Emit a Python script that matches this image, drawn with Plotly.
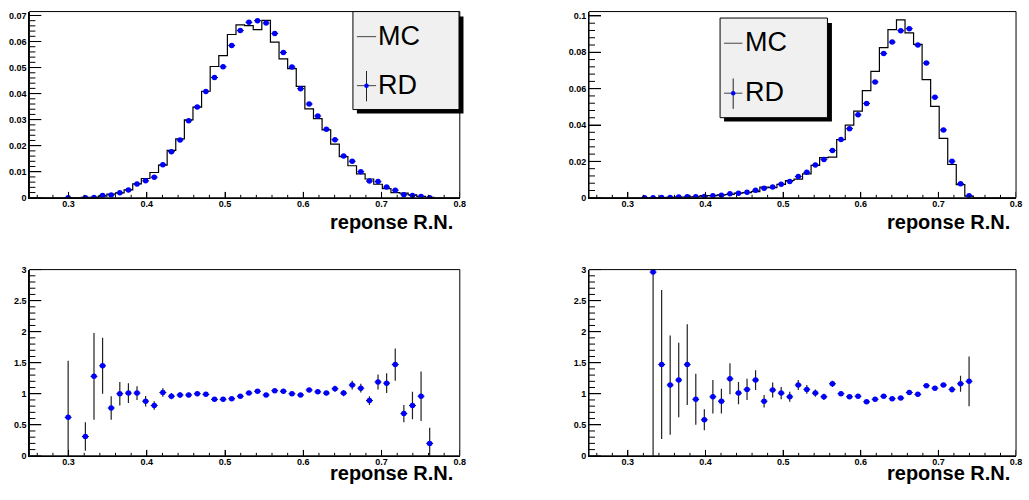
import plotly.graph_objects as go

# ---------------- data ----------------
X_MIN, X_MAX, N_BINS = 0.25, 0.8, 50
X_TITLE = "reponse R.N."
LEGEND_LABELS = ["MC", "RD"]

# left column (50 bins from 0.25 to 0.8)
mc_left = [0, 0, 0, 0, 0.00008, 0.00005, 0.00016, 0.00012, 0.00062, 0.00143,
           0.0019, 0.0030, 0.0053, 0.0074, 0.0097, 0.0125, 0.0182, 0.0226, 0.0299, 0.0348,
           0.0409, 0.0504, 0.0546, 0.0627, 0.0664, 0.0661, 0.0646, 0.0681, 0.0598, 0.0533,
           0.0496, 0.0428, 0.0341, 0.0304, 0.0261, 0.0206, 0.0158, 0.0123, 0.0092, 0.0072,
           0.0052, 0.0035, 0.0020, 0.0018, 0.0011, 0.00052, 0.0002, 0, 0, 0]
rd_left = [0, 0, 0, 0, 0.00005, 0, 0.00005, 0.00015, 0.0009, 0.0011,
           0.0019, 0.0030, 0.0053, 0.0065, 0.0079, 0.0127, 0.0177, 0.0222, 0.0296, 0.0349,
           0.0408, 0.0462, 0.0503, 0.0585, 0.0642, 0.0674, 0.0680, 0.0671, 0.0631, 0.0558,
           0.0502, 0.0419, 0.0360, 0.0314, 0.0263, 0.0223, 0.0160, 0.0140, 0.0100, 0.0064,
           0.0062, 0.0041, 0.0029, 0.0012, 0.0009, 0.0005, 0.00004, 0, 0, 0]
ratio_left = [None, None, None, None, 0.62, None, 0.31, 1.28, 1.45, 0.77,
              1.00, 1.01, 1.01, 0.88, 0.81, 1.02, 0.96, 0.98, 0.98, 1.00,
              0.99, 0.91, 0.91, 0.92, 0.96, 1.01, 1.04, 0.98, 1.05, 1.04,
              1.00, 0.98, 1.06, 1.03, 1.01, 1.08, 1.01, 1.14, 1.09, 0.89,
              1.19, 1.17, 1.47, 0.68, 0.81, 0.96, 0.20, None, None, None]
ratio_left_err = [0, 0, 0, 0, 0.91, 0, 0.23, 0.70, 0.45, 0.19,
                  0.19, 0.16, 0.11, 0.085, 0.07, 0.07, 0.05, 0.045, 0.035, 0.03,
                  0.03, 0.025, 0.025, 0.02, 0.02, 0.02, 0.02, 0.02, 0.02, 0.02,
                  0.025, 0.025, 0.03, 0.03, 0.035, 0.05, 0.05, 0.07, 0.07, 0.07,
                  0.12, 0.16, 0.26, 0.14, 0.22, 0.40, 0.25, 0, 0, 0]

# right column
mc_right = [0, 0, 0, 0, 0, 0, 0, 0.00002, 0.00007, 0.00018,
            0.00033, 0.00034, 0.00055, 0.0012, 0.00116, 0.0016, 0.0018, 0.0025, 0.0028, 0.0034,
            0.0059, 0.0056, 0.0074, 0.0095, 0.0103, 0.0131, 0.0178, 0.0221, 0.0224, 0.0320,
            0.0400, 0.0476, 0.0589, 0.0695, 0.0826, 0.0925, 0.0978, 0.0907, 0.0844, 0.0650,
            0.0503, 0.0327, 0.0183, 0.0072, 0.0009, 0, 0, 0, 0, 0]
rd_right = [0, 0, 0, 0, 0, 0, 0.00002, 0.00005, 0.0001, 0.0002,
            0.0004, 0.0005, 0.0005, 0.0007, 0.0011, 0.0014, 0.0022, 0.0025, 0.0030, 0.0041,
            0.0052, 0.0059, 0.0075, 0.0090, 0.0117, 0.0140, 0.0180, 0.0210, 0.0260, 0.0320,
            0.0380, 0.0456, 0.0519, 0.0637, 0.0794, 0.0856, 0.0919, 0.0930, 0.0840, 0.0741,
            0.0553, 0.0373, 0.0201, 0.0077, 0.0011, 0, 0, 0, 0, 0]
ratio_right = [None, None, None, None, None, None, None, 2.96, 1.47, 1.14,
               1.22, 1.47, 0.91, 0.58, 0.95, 0.88, 1.24, 1.01, 1.07, 1.22,
               0.88, 1.06, 1.01, 0.95, 1.14, 1.07, 1.01, 0.95, 1.16, 1.00,
               0.95, 0.96, 0.87, 0.91, 0.96, 0.92, 0.93, 1.02, 0.99, 1.13,
               1.09, 1.14, 1.07, 1.16, 1.20, None, None, None, None, None]
ratio_right_err = [0, 0, 0, 0, 0, 0, 0, 3.0, 1.2, 0.8,
                   0.6, 0.65, 0.41, 0.17, 0.27, 0.2, 0.25, 0.18, 0.17, 0.16,
                   0.10, 0.12, 0.10, 0.08, 0.08, 0.07, 0.06, 0.05, 0.05, 0.03,
                   0.02, 0.02, 0.02, 0.02, 0.02, 0.02, 0.02, 0.02, 0.02, 0.02,
                   0.02, 0.03, 0.05, 0.13, 0.40, 0, 0, 0, 0, 0]

# ---------------- figure ----------------
W, H = 1029, 500
BIN_W = (X_MAX - X_MIN) / N_BINS
edges = [X_MIN + i * BIN_W for i in range(N_BINS + 1)]
centers = [X_MIN + (i + 0.5) * BIN_W for i in range(N_BINS)]
XERR = 0.4 * BIN_W

FONT = "Liberation Sans, Arial, Helvetica, sans-serif"
BLUE = "#0000ff"


def px(x):
    return x / W


def py(y):
    return 1 - y / H


fig = go.Figure()


def add_hist(mc, rd, xa, ya):
    fig.add_trace(go.Scatter(
        x=edges, y=list(mc) + [mc[-1]], mode="lines",
        line=dict(shape="hv", color="black", width=1.2),
        xaxis=xa, yaxis=ya, showlegend=False, hoverinfo="skip"))
    idx = [i for i, v in enumerate(rd) if v > 0]
    fig.add_trace(go.Scatter(
        x=[centers[i] for i in idx], y=[rd[i] for i in idx], mode="markers",
        marker=dict(color=BLUE, size=5.5, symbol="circle"),
        error_x=dict(type="constant", value=XERR, width=0, thickness=1, color="black"),
        xaxis=xa, yaxis=ya, showlegend=False))


def add_ratio(r, e, xa, ya):
    idx = [i for i, v in enumerate(r) if v is not None]
    fig.add_trace(go.Scatter(
        x=[centers[i] for i in idx], y=[r[i] for i in idx], mode="markers",
        marker=dict(color=BLUE, size=5.5, symbol="circle"),
        error_x=dict(type="constant", value=XERR, width=0, thickness=1, color="black"),
        error_y=dict(type="data", array=[e[i] for i in idx], width=0, thickness=1.2, color="#222222"),
        xaxis=xa, yaxis=ya, showlegend=False))


add_hist(mc_left, rd_left, "x", "y")
add_hist(mc_right, rd_right, "x2", "y2")
add_ratio(ratio_left, ratio_left_err, "x3", "y3")
add_ratio(ratio_right, ratio_right_err, "x4", "y4")

tickfont = dict(family=FONT, size=9, color="black", weight="bold")

LEFT_PX = (29.6, 462.5)
RIGHT_PX = (592.5, 1022)
TOP_PX = (6.7, 196.7)
BOT_PX = (270, 460)
LEFT_DOM = [px(LEFT_PX[0]), px(LEFT_PX[1])]
RIGHT_DOM = [px(RIGHT_PX[0]), px(RIGHT_PX[1])]
TOP_DOM = [py(TOP_PX[1]), py(TOP_PX[0])]
BOT_DOM = [py(BOT_PX[1]), py(BOT_PX[0])]

Y_TOP_LEFT = [0, 0.0715]
Y_TOP_RIGHT = [0, 0.1024]
Y_RATIO = [0, 3]

# ROOT-style inward tick marks drawn as thin line traces on each pad's own scale
pads = [("x", "y", LEFT_PX, TOP_PX, Y_TOP_LEFT, 0.002),
        ("x2", "y2", RIGHT_PX, TOP_PX, Y_TOP_RIGHT, 0.004),
        ("x3", "y3", LEFT_PX, BOT_PX, Y_RATIO, 0.1),
        ("x4", "y4", RIGHT_PX, BOT_PX, Y_RATIO, 0.1)]
for xa, ya, xpx, ypx, yr, ystep in pads:
    pw = xpx[1] - xpx[0]
    ph = ypx[1] - ypx[0]
    tx, ty = [], []
    for k in range(13, 41):
        v = k * 0.02
        ln = 6 if k % 5 == 0 else 3
        tx += [v, v, None]
        ty += [yr[0], yr[0] + ln / ph * (yr[1] - yr[0]), None]
    k = 0
    while k * ystep <= yr[1] + 1e-9:
        v = k * ystep
        ln = 12 if k % 5 == 0 else 6
        tx += [X_MIN, X_MIN + ln / pw * (X_MAX - X_MIN), None]
        ty += [v, v, None]
        k += 1
    fig.add_trace(go.Scatter(x=tx, y=ty, mode="lines", line=dict(color="black", width=1),
                             xaxis=xa, yaxis=ya, showlegend=False, hoverinfo="skip",
                             connectgaps=False))


def xaxis(domain, anchor):
    return dict(domain=domain, anchor=anchor, range=[X_MIN, X_MAX],
                tickmode="linear", tick0=0, dtick=0.1, ticks="inside", ticklen=6, tickwidth=1, tickcolor="black",
                showline=True, linecolor="black", linewidth=1, mirror=False,
                showgrid=False, zeroline=False, tickfont=tickfont, ticklabelstandoff=-3)


def yaxis(domain, anchor, rng, dt):
    return dict(domain=domain, anchor=anchor, range=rng,
                tickmode="linear", tick0=0, dtick=dt, ticks="inside", ticklen=12, tickwidth=1, tickcolor="black",
                showline=True, linecolor="black", linewidth=1, mirror=False,
                showgrid=False, zeroline=False, tickfont=tickfont)


fig.update_layout(
    width=W, height=H, margin=dict(l=0, r=0, t=0, b=0),
    paper_bgcolor="white", plot_bgcolor="white", showlegend=False,
    xaxis=xaxis(LEFT_DOM, "y"),
    yaxis=yaxis(TOP_DOM, "x", Y_TOP_LEFT, 0.01),
    xaxis2=xaxis(RIGHT_DOM, "y2"),
    yaxis2=yaxis(TOP_DOM, "x2", Y_TOP_RIGHT, 0.02),
    xaxis3=xaxis(LEFT_DOM, "y3"),
    yaxis3=yaxis(BOT_DOM, "x3", Y_RATIO, 0.5),
    xaxis4=xaxis(RIGHT_DOM, "y4"),
    yaxis4=yaxis(BOT_DOM, "x4", Y_RATIO, 0.5),
)

shapes = []
# frames (top / right sides without ticks, as in ROOT)
for xa, ya, *_ in pads:
    shapes.append(dict(type="rect", xref=f"{xa} domain", yref=f"{ya} domain",
                       x0=0, x1=1, y0=0, y1=1, line=dict(color="black", width=1),
                       layer="above"))

# axis titles (right aligned, ROOT style)
for xr, yc in [(457.5, 221.5), (1018, 221.5), (457.5, 478), (1018, 478)]:
    fig.add_annotation(x=px(xr), y=py(yc), xref="paper", yref="paper",
                       text=X_TITLE, showarrow=False, xanchor="right", yanchor="middle",
                       font=dict(family=FONT, size=20, color="black", weight="bold"))


# legends (drawn ROOT-style: grey box with black drop shadow)
def legend(x0, y0, x1, y1, mc_y, rd_y, sym_x0, sym_x1, text_x):
    shapes.append(dict(type="rect", xref="paper", yref="paper",
                       x0=px(x0 + 4), x1=px(x1 + 4.5), y0=py(y1 + 4), y1=py(y0 + 5),
                       fillcolor="black", line=dict(width=0), layer="above"))
    shapes.append(dict(type="rect", xref="paper", yref="paper",
                       x0=px(x0), x1=px(x1), y0=py(y1), y1=py(y0),
                       fillcolor="#f0f0f0", line=dict(color="black", width=1), layer="above"))
    shapes.append(dict(type="line", xref="paper", yref="paper",
                       x0=px(sym_x0), x1=px(sym_x1), y0=py(mc_y), y1=py(mc_y),
                       line=dict(color="#444444", width=1), layer="above"))
    xm = (sym_x0 + sym_x1) / 2
    shapes.append(dict(type="line", xref="paper", yref="paper",
                       x0=px(sym_x0), x1=px(sym_x1), y0=py(rd_y), y1=py(rd_y),
                       line=dict(color="#444444", width=1), layer="above"))
    shapes.append(dict(type="line", xref="paper", yref="paper",
                       x0=px(xm), x1=px(xm), y0=py(rd_y + 16), y1=py(rd_y - 15),
                       line=dict(color="#222222", width=1), layer="above"))
    shapes.append(dict(type="circle", xref="paper", yref="paper",
                       x0=px(xm - 2.3), x1=px(xm + 2.3), y0=py(rd_y + 2.3), y1=py(rd_y - 2.3),
                       fillcolor=BLUE, line=dict(width=0), layer="above"))
    for lab, yy in zip(LEGEND_LABELS, [mc_y - 1, rd_y - 1]):
        fig.add_annotation(x=px(text_x), y=py(yy), xref="paper", yref="paper",
                           text=lab, showarrow=False, xanchor="left", yanchor="middle",
                           font=dict(family=FONT, size=27, color="black"))


legend(355, 6.7, 461.7, 106.7, 32.3, 82.3, 359, 378.3, 378)
legend(724.3, 13.3, 832.3, 115, 39, 90, 728.3, 746.7, 747)

fig.update_layout(shapes=shapes)

fig.write_html("out.html", config={"displayModeBar": False},
               post_script="document.body.style.margin='0px';")
